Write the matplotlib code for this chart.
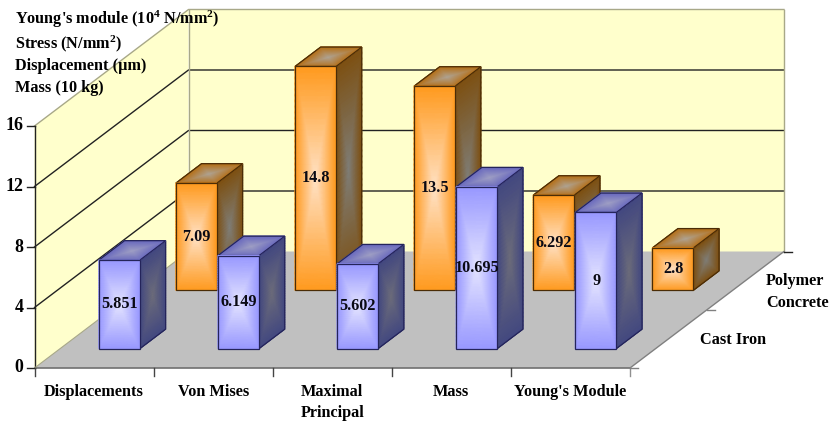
import matplotlib
matplotlib.use("Agg")
import matplotlib.pyplot as plt
import numpy as np
from matplotlib.colors import LinearSegmentedColormap
from matplotlib.patches import Polygon

plt.rcParams["font.family"] = ["Liberation Serif", "DejaVu Serif"]
plt.rcParams["font.weight"] = "bold"
plt.rcParams["mathtext.fontset"] = "custom"
plt.rcParams["mathtext.rm"] = "Liberation Serif:bold"
plt.rcParams["mathtext.bf"] = "Liberation Serif:bold"
plt.rcParams["mathtext.default"] = "bf"

categories = ["Displacements", "Von Mises", "Maximal\nPrincipal", "Mass", "Young's Module"]
cast_iron = [5.851, 6.149, 5.602, 10.695, 9]
polymer_concrete = [7.09, 14.8, 13.5, 6.292, 2.8]
value_labels_iron = ["5.851", "6.149", "5.602", "10.695", "9"]
value_labels_polymer = ["7.09", "14.8", "13.5", "6.292", "2.8"]
y_ticks = [0, 4, 8, 12, 16]
title_lines = [
    r"Young's module (10$^{4}$ N/mm$^{2}$)",
    r"Stress (N/mm$^{2}$)",
    "Displacement (\u00b5m)",
    "Mass (10 kg)",
]

# oblique projection, pixels
X0, Y0 = 34.5, 368.0
CAT_W = 119.1
UNIT_H = 15.125
DEPTH_DX, DEPTH_DY = 154.0, -116.5
WALL = "#FFFFCC"
FLOOR = "#C0C0C0"
FS = 11.7

# edge colour -> centre colour for each bar face
ORANGE = {
    "front": ("#FF9A1E", "#FFE2C6"),
    "side": ("#7D5012", "#7E7E78"),
    "top": ("#B5721C", "#AFA494"),
    "edge": "#4A2C06",
}
BLUE = {
    "front": ("#9898FF", "#E4E4FF"),
    "side": ("#434880", "#6C6C7A"),
    "top": ("#6C6CBE", "#A0A0C4"),
    "edge": "#24245A",
}


def proj(cat, val, depth):
    # cat in category slots, val in chart units, depth 0..1 front to back
    return (X0 + cat * CAT_W + depth * DEPTH_DX, Y0 - val * UNIT_H + depth * DEPTH_DY)


def shade(ax, corners, colors, z):
    # corners: lower-left, lower-right, upper-right, upper-left in pixels
    n = 40
    s = np.linspace(0, 1, n)
    u, v = np.meshgrid(s, s)
    c = np.array(corners, dtype=float)
    xs = ((1 - u) * (1 - v) * c[0, 0] + u * (1 - v) * c[1, 0] + u * v * c[2, 0] + (1 - u) * v * c[3, 0])
    ys = ((1 - u) * (1 - v) * c[0, 1] + u * (1 - v) * c[1, 1] + u * v * c[2, 1] + (1 - u) * v * c[3, 1])
    t = np.maximum(np.abs(2 * u - 1), np.abs(2 * v - 1))
    cmap = LinearSegmentedColormap.from_list("face", [colors[1], colors[0]])
    ax.pcolormesh(xs, ys, t, cmap=cmap, vmin=0, vmax=1, shading="gouraud", zorder=z)


def draw_bar(ax, cat, series, val, style, z):
    x1, x2 = cat + 0.325, cat + 0.67
    d1, d2 = (series + 1 / 3) / 2, (series + 2 / 3) / 2
    front = [proj(x1, 0, d1), proj(x2, 0, d1), proj(x2, val, d1), proj(x1, val, d1)]
    side = [proj(x2, 0, d1), proj(x2, 0, d2), proj(x2, val, d2), proj(x2, val, d1)]
    top = [proj(x1, val, d1), proj(x2, val, d1), proj(x2, val, d2), proj(x1, val, d2)]
    for corners, key in ((side, "side"), (top, "top"), (front, "front")):
        shade(ax, corners, style[key], z)
        ax.add_patch(Polygon(corners, closed=True, fill=False, ec=style["edge"], lw=0.9, zorder=z + 0.5))
        z += 1
    return z


fig = plt.figure(figsize=(8.31, 4.21), dpi=100, facecolor="white")
ax = fig.add_axes([0, 0, 1, 1])
ax.set_xlim(0, 831)
ax.set_ylim(421, 0)
ax.axis("off")

n = len(categories)
vmax = y_ticks[-1]

# walls and floor
ax.add_patch(Polygon([proj(0, 0, 0), proj(0, 0, 1), proj(0, vmax, 1), proj(0, vmax, 0)], fc=WALL, ec="none", zorder=1))
ax.add_patch(Polygon([proj(0, 0, 1), proj(n, 0, 1), proj(n, vmax, 1), proj(0, vmax, 1)], fc=WALL, ec="none", zorder=1))
ax.add_patch(Polygon([proj(0, 0, 0), proj(n, 0, 0), proj(n, 0, 1), proj(0, 0, 1)], fc=FLOOR, ec="none", zorder=1))

# gridlines along the two walls
for tick in y_ticks[1:]:
    col = "#A8A888" if tick == vmax else "#222222"
    pts = [proj(0, tick, 0), proj(0, tick, 1), proj(n, tick, 1)]
    ax.plot(*zip(*pts), color=col, lw=1.0, zorder=2)
ax.plot(*zip(proj(0, 0, 1), proj(0, vmax, 1)), color="#A8A888", lw=1.0, zorder=2)
ax.plot(*zip(proj(n, 0, 1), proj(n, vmax, 1)), color="#A8A888", lw=1.0, zorder=2)

# axes and ticks
ax.plot(*zip(proj(0, 0, 0), proj(0, vmax, 0)), color="#222222", lw=1.0, zorder=3)
ax.plot(*zip(proj(0, 0, 0), proj(n, 0, 0)), color="#707070", lw=1.2, zorder=3)
ax.plot(*zip(proj(n, 0, 0), proj(n, 0, 1)), color="#808080", lw=1.0, zorder=3)
ax.plot(*zip(proj(0, 0, 0), proj(0, 0, 1)), color="#A8A888", lw=0.8, zorder=3)
for tick in y_ticks:
    x, y = proj(0, tick, 0)
    ax.plot([x - 8, x], [y, y], color="#222222", lw=1.0, zorder=3)
    ax.text(x - 11, y, str(tick), ha="right", va="center", fontsize=FS + 1.2, color="black")
for i in range(n + 1):
    x, y = proj(i, 0, 0)
    ax.plot([x, x], [y, y + 8], color="#444444" if i < n else "#909090", lw=1.0, zorder=3)
for d in (0, 0.5, 1):
    x, y = proj(n, 0, d)
    ax.plot([x, x + 8], [y, y], color="#808080" if d < 1 else "#222222", lw=1.0, zorder=3)

# bars, back series first
z = 5
for i, val in enumerate(polymer_concrete):
    z = draw_bar(ax, i, 1, val, ORANGE, z)
for i, val in enumerate(cast_iron):
    z = draw_bar(ax, i, 0, val, BLUE, z)

# value labels on the front faces
for series, vals, labels in ((1, polymer_concrete, value_labels_polymer), (0, cast_iron, value_labels_iron)):
    for i, (val, lab) in enumerate(zip(vals, labels)):
        x, y = proj(i + 0.5, val / 2, (series + 1 / 3) / 2)
        ax.text(x, y, lab, ha="center", va="center", fontsize=FS, color="#0A0A14", zorder=z + 1)

# category and series labels
for i, cat in enumerate(categories):
    x, y = proj(i + 0.5, 0, 0)
    ax.text(x, y + 16, cat, ha="center", va="top", fontsize=FS, linespacing=1.42, color="black", zorder=z + 1)
ax.text(733, 339.5, "Cast Iron", ha="center", va="center", fontsize=FS, color="black")
ax.text(766, 292, "Polymer\nConcrete", ha="left", va="center", fontsize=FS, linespacing=1.5, color="black")

# unit lines in the upper left corner
for line, y in zip(title_lines, [19, 44, 66, 88]):
    ax.text(15, y, line, ha="left", va="center", fontsize=FS, color="black", zorder=z + 1)

fig.savefig("out.png", dpi=100, facecolor="white")
